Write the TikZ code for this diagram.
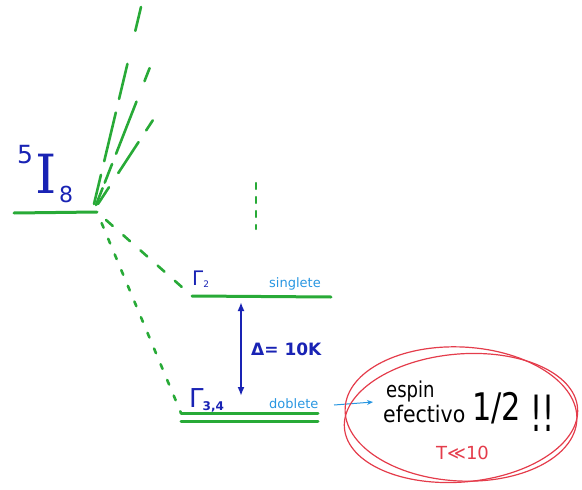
\documentclass[tikz,border=0pt]{standalone}
\usepackage{fontspec}
\setmainfont{DejaVu Sans}
\newfontfamily\serifI{DejaVu Serif}
\usetikzlibrary{arrows.meta}
\definecolor{lvlgreen}{RGB}{40,170,55}
\definecolor{dkblue}{RGB}{25,35,180}
\definecolor{ltblue}{RGB}{40,150,225}
\definecolor{hred}{RGB}{228,60,75}
\tikzset{
  level/.style={draw=lvlgreen,line width=3pt,line cap=round},
  fan/.style={draw=lvlgreen,line width=2.6pt,line cap=round},
  lbl/.style={inner sep=0pt,anchor=base west},
}
\begin{document}
\begin{tikzpicture}[x=1pt,y=-1pt]
\useasboundingbox (0,0) rectangle (582,490);
% coordinates
\coordinate (g0) at (14,213);
\coordinate (g) at (97,212);
\coordinate (s0) at (192,296);
\coordinate (s1) at (331,297);
\coordinate (d0) at (181,413);
\coordinate (d1) at (318,413);
\coordinate (e0) at (181,421);
\coordinate (e1) at (318,421);
\coordinate (t1) at (141,7);
\coordinate (t2) at (152,62);
\coordinate (t3) at (153,120);
\coordinate (u0) at (256,183);
\coordinate (u1) at (256,229);
% levels
\draw[level] (g0) -- (g);
\draw[level] (s0) -- (s1);
\draw[level] (d0) -- (d1);
\draw[level] (e0) -- (e1);
% fan of upper levels
\draw[fan,dash pattern=on 30pt off 14pt on 50pt off 14pt on 36pt off 34pt] (94,204) -- (t1);
\draw[fan,dash pattern=on 18pt off 6pt on 20pt off 11pt on 56pt off 22pt on 14pt] (96,205) -- (t2);
\draw[fan,dash pattern=on 20pt off 17pt on 37pt off 14pt on 12pt] (98,204) -- (t3);
\draw[fan,line width=2.2pt,dash pattern=on 6pt off 8pt] (u0) -- (u1);
% connectors to singlet and doublet
\draw[fan,dash pattern=on 9pt off 14pt,dash phase=-12pt] (g) -- (s0);
\draw[fan,dash pattern=on 5pt off 12pt,dash phase=-12pt] (g) -- (d0);
% gap arrow
\draw[dkblue,line width=2.2pt,{Latex[length=9pt,width=7pt]}-{Latex[length=9pt,width=7pt]}] (241,302) -- (241,396);
\node[lbl,dkblue,font=\fontsize{17}{17}\selectfont\bfseries] (gap) at (251,355) {Δ= 10K};
% labels
\node[lbl,dkblue,font=\fontsize{54}{54}\serifI] (I) at (35,193) {I};
\node[lbl,dkblue,font=\fontsize{25}{25}\selectfont] (five) at (17,163) {5};
\node[lbl,dkblue,font=\fontsize{22}{22}\selectfont] (eight) at (59,202) {8};
\node[lbl,dkblue,font=\fontsize{20}{20}\selectfont] (G2) at (192,285) {Γ\raisebox{-2pt}{\fontsize{9}{9}\selectfont 2}};
\node[lbl,dkblue,font=\fontsize{26}{26}\selectfont] (G34) at (189,407) {Γ\hspace{-1pt}\raisebox{-3pt}{\fontsize{12}{12}\selectfont\bfseries 3,4}};
\node[lbl,ltblue,font=\fontsize{13}{13}\selectfont] (sing) at (269,287) {singlete};
\node[lbl,ltblue,font=\fontsize{13}{13}\selectfont] (dob) at (269,408) {doblete};
\coordinate (ae) at (373,402);
\draw[ltblue,line width=1pt,-{Stealth[length=6pt,width=5pt]}] (334,405) -- (ae);
% red ellipses
\draw[hred,line width=1.2pt,rotate around={-3:(461,414)}] (461,414) ellipse [x radius=116pt,y radius=67pt];
\draw[hred,line width=1.2pt,rotate around={5:(461,418)}] (461,418) ellipse [x radius=117pt,y radius=64pt];
% text in ellipse
\node[lbl,font=\fontsize{19}{19}\selectfont] (espin) at (386,397) {\scalebox{0.95}[1.15]{espin}};
\node[lbl,font=\fontsize{19}{19}\selectfont] (efec) at (383,422) {\scalebox{1.08}[1.2]{efectivo}};
\node[lbl,font=\fontsize{38}{38}\selectfont] (half) at (472,420) {\scalebox{0.8}[1]{1/2}};
\node[lbl,font=\fontsize{50}{50}\selectfont] (bang) at (530,431) {\scalebox{0.6}[1]{!!}};
\node[lbl,hred,font=\fontsize{18}{18}\selectfont] (T) at (436,459) {T≪10};
\end{tikzpicture}
\end{document}
